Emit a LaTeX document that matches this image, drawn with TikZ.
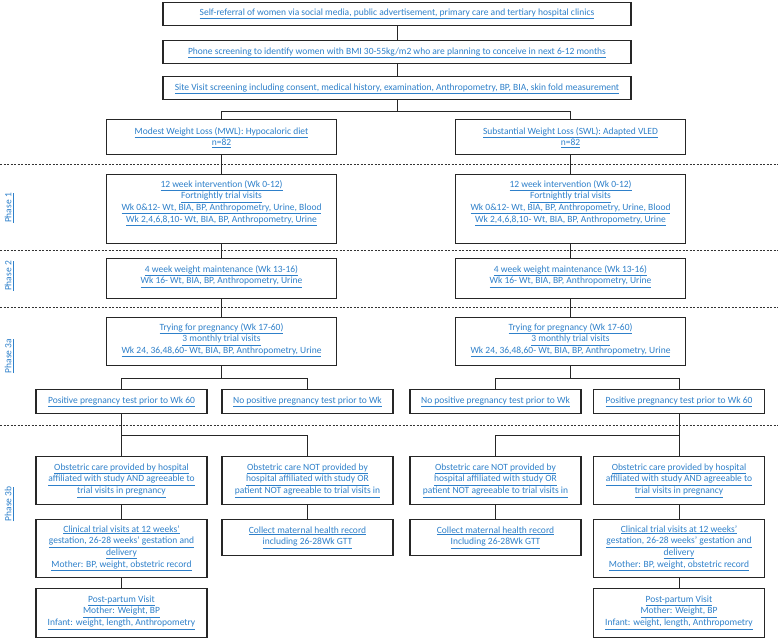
\documentclass[tikz,border=0pt]{standalone}
\usepackage{fontspec}
\setmainfont{Carlito}
\definecolor{lnk}{RGB}{46,128,202}
\newcommand\ul[1]{\underline{#1}}
\newcommand\bt[4]{\parbox[c][#2pt][t]{#1pt}{\centering\fontsize{9.5}{11.8}\selectfont\color{lnk}\rule{0pt}{#3pt}#4\par}}
\tikzset{
  bx/.style={draw=black!85, line width=1.2pt, inner sep=0pt, anchor=north, fill=white},
  con/.style={draw=black!85, line width=1pt},
  sep/.style={draw=black!80, line width=0.8pt, dash pattern=on 2pt off 1.5pt},
  lbl/.style={inner sep=0pt, text=lnk, font=\fontsize{9.5}{10}\selectfont, rotate=90}
}
\begin{document}
\begin{tikzpicture}[x=1pt,y=-1pt]
\useasboundingbox (0,0) rectangle (778,638);
% dashed phase separators
\foreach \yy/\nm in {164/a,250/b,307/c,425/d}{
  \coordinate (sl\nm) at (0,\yy);
  \coordinate (sr\nm) at (778,\yy);
}
\draw[sep] (sla) -- (sra);
\draw[sep] (slb) -- (srb);
\draw[sep] (slc) -- (src);
\draw[sep] (sld) -- (srd);

% phase labels
\node[lbl] (ph1) at (9,208) {\ul{Phase 1}};
\node[lbl] (ph2) at (9,276) {\ul{Phase 2}};
\node[lbl] (ph3a) at (9,356) {\ul{Phase 3a}};
\node[lbl] (ph3b) at (9,504) {\ul{Phase 3b}};

% top boxes
\node[bx] (b1) at (397,2) {\bt{468}{23}{12.5}{\ul{Self-referral of women via social media, public advertisement, primary care and tertiary hospital clinics}}};
\node[bx] (b2) at (397,40) {\bt{468}{23}{13.5}{\ul{Phone screening to identify women with BMI 30-55kg/m2 who are planning to conceive in next 6-12 months}}};
\node[bx] (b3) at (397,76) {\bt{468}{23}{13.5}{\ul{Site Visit screening including consent, medical history, examination, Anthropometry, BP, BIA, skin fold measurement}}};

% arms
\node[bx] (mwl) at (221.5,119) {\bt{230}{35}{14.5}{\ul{Modest Weight Loss (MWL): Hypocaloric diet}\\\ul{n=82}}};
\node[bx] (swl) at (570.5,119) {\bt{230}{35}{14.5}{\ul{Substantial Weight Loss (SWL): Adapted VLED}\\\ul{n=82}}};

% phase 1
\node[bx] (p1L) at (221.5,174) {\bt{230}{69}{12.5}{\ul{12 week intervention (Wk 0-12)}\\\ul{Fortnightly trial visits}\\\ul{Wk 0\&12- Wt, BIA, BP, Anthropometry, Urine, Blood}\\\ul{Wk 2,4,6,8,10- Wt, BIA, BP, Anthropometry, Urine}}};
\node[bx] (p1R) at (570.5,174) {\bt{230}{69}{12.5}{\ul{12 week intervention (Wk 0-12)}\\\ul{Fortnightly trial visits}\\\ul{Wk 0\&12- Wt, BIA, BP, Anthropometry, Urine, Blood}\\\ul{Wk 2,4,6,8,10- Wt, BIA, BP, Anthropometry, Urine}}};

% phase 2
\node[bx] (p2L) at (221.5,258) {\bt{230}{40}{13.5}{\ul{4 week weight maintenance (Wk 13-16)}\\\ul{Wk 16- Wt, BIA, BP, Anthropometry, Urine}}};
\node[bx] (p2R) at (570.5,258) {\bt{230}{40}{13.5}{\ul{4 week weight maintenance (Wk 13-16)}\\\ul{Wk 16- Wt, BIA, BP, Anthropometry, Urine}}};

% phase 3a
\node[bx] (p3L) at (221.5,317) {\bt{230}{48}{12.5}{\ul{Trying for pregnancy (Wk 17-60)}\\\ul{3 monthly trial visits}\\\ul{Wk 24, 36,48,60- Wt, BIA, BP, Anthropometry, Urine}}};
\node[bx] (p3R) at (570.5,317) {\bt{230}{48}{12.5}{\ul{Trying for pregnancy (Wk 17-60)}\\\ul{3 monthly trial visits}\\\ul{Wk 24, 36,48,60- Wt, BIA, BP, Anthropometry, Urine}}};

% outcomes
\node[bx] (posL) at (121.5,389) {\bt{171}{24}{13.5}{\ul{Positive pregnancy test prior to Wk 60}}};
\node[bx] (noL) at (307.5,389) {\bt{171}{24}{13.5}{\ul{No positive pregnancy test prior to Wk}}};
\node[bx] (noR) at (495.5,389) {\bt{171}{24}{13.5}{\ul{No positive pregnancy test prior to Wk}}};
\node[bx] (posR) at (679,389) {\bt{171}{24}{13.5}{\ul{Positive pregnancy test prior to Wk 60}}};

% obstetric care
\node[bx] (obsL) at (121.5,456) {\bt{171}{48}{13.5}{\ul{Obstetric care provided by hospital}\\\ul{affiliated with study AND agreeable to}\\\ul{trial visits in pregnancy}}};
\node[bx] (obnL) at (307.5,456) {\bt{171}{48}{13.5}{\ul{Obstetric care NOT provided by}\\\ul{hospital affiliated with study OR}\\\ul{patient NOT agreeable to trial visits in}}};
\node[bx] (obnR) at (495.5,456) {\bt{171}{48}{13.5}{\ul{Obstetric care NOT provided by}\\\ul{hospital affiliated with study OR}\\\ul{patient NOT agreeable to trial visits in}}};
\node[bx] (obsR) at (679,456) {\bt{171}{48}{13.5}{\ul{Obstetric care provided by hospital}\\\ul{affiliated with study AND agreeable to}\\\ul{trial visits in pregnancy}}};

% clinical / collect
\node[bx] (clinL) at (121.5,519) {\bt{171}{58}{12.5}{\ul{Clinical trial visits at 12 weeks’}\\\ul{gestation, 26-28 weeks’ gestation and}\\\ul{delivery}\\\ul{Mother: BP, weight, obstetric record}}};
\node[bx] (colL) at (307.5,519) {\bt{171}{36}{13.5}{\ul{Collect maternal health record}\\\ul{including 26-28Wk GTT}}};
\node[bx] (colR) at (495.5,519) {\bt{171}{36}{13.5}{\ul{Collect maternal health record}\\\ul{Including 26-28Wk GTT}}};
\node[bx] (clinR) at (679,519) {\bt{171}{58}{12.5}{\ul{Clinical trial visits at 12 weeks’}\\\ul{gestation, 26-28 weeks’ gestation and}\\\ul{delivery}\\\ul{Mother: BP, weight, obstetric record}}};

% post-partum
\node[bx] (ppL) at (121.5,588) {\bt{171}{49}{13.5}{\ul{Post-partum Visit}\\\ul{Mother: Weight, BP}\\\ul{Infant: weight, length, Anthropometry}}};
\node[bx] (ppR) at (679,588) {\bt{171}{49}{13.5}{\ul{Post-partum Visit}\\\ul{Mother: Weight, BP}\\\ul{Infant: weight, length, Anthropometry}}};

% junction coordinates
\coordinate (j1) at (397,111);
\coordinate (j3L) at (221.5,378);
\coordinate (j3R) at (570.5,378);
\coordinate (j4L) at (121.5,435);
\coordinate (j4R) at (679,435);

% connectors
\draw[con] (b1) -- (b2);
\draw[con] (b2) -- (b3);
\draw[con] (b3.south) -- (j1) -| (mwl.north);
\draw[con] (j1) -| (swl.north);
\draw[con] (mwl) -- (p1L);
\draw[con] (swl) -- (p1R);
\draw[con] (p1L) -- (p2L);
\draw[con] (p1R) -- (p2R);
\draw[con] (p2L) -- (p3L);
\draw[con] (p2R) -- (p3R);
\draw[con] (p3L.south) -- (j3L) -| (posL.north);
\draw[con] (j3L) -| (noL.north);
\draw[con] (p3R.south) -- (j3R) -| (noR.north);
\draw[con] (j3R) -| (posR.north);
\draw[con] (posL.south) -- (j4L) -- (obsL.north);
\draw[con] (j4L) -| (obnL.north);
\draw[con] (posR.south) -- (j4R) -- (obsR.north);
\draw[con] (j4R) -| (obnR.north);
\draw[con] (obsL) -- (clinL);
\draw[con] (clinL) -- (ppL);
\draw[con] (obnL) -- (colL);
\draw[con] (obnR) -- (colR);
\draw[con] (obsR) -- (clinR);
\draw[con] (clinR) -- (ppR);
\end{tikzpicture}
\end{document}
